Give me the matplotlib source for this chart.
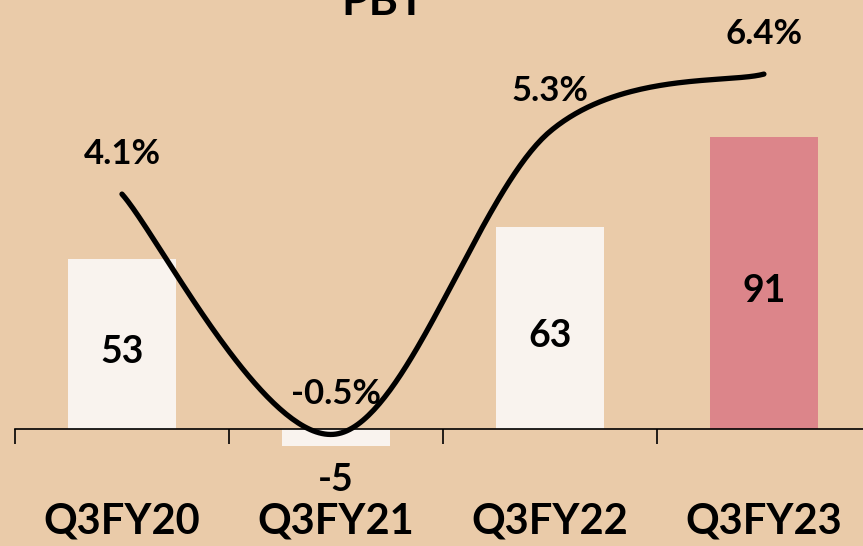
import numpy as np
import matplotlib.pyplot as plt

plt.rcParams['font.family'] = ['Lato', 'DejaVu Sans']
plt.rcParams['font.weight'] = 'bold'

quarters = ["Q3FY20", "Q3FY21", "Q3FY22", "Q3FY23"]
pbt = [53, -5, 63, 91]
margin = [4.1, -0.5, 5.3, 6.4]
bar_colors = ["#F9F3EE", "#F9F3EE", "#F9F3EE", "#DC858A"]

bg = "#EACBA9"


def smooth_curve(xs, ys, n=80):
    # Catmull-Rom through the points, drawn as cubic bezier segments
    p = np.column_stack([xs, ys]).astype(float)
    p = np.vstack([p[:1], p, p[-1:]])
    out = []
    t = np.linspace(0, 1, n)[:, None]
    for i in range(1, len(p) - 2):
        p0, p1, p2, p3 = p[i - 1], p[i], p[i + 1], p[i + 2]
        c1 = p1 + (p2 - p0) / 6
        c2 = p2 - (p3 - p1) / 6
        seg = ((1 - t) ** 3) * p1 + 3 * ((1 - t) ** 2) * t * c1 \
            + 3 * (1 - t) * t ** 2 * c2 + t ** 3 * p2
        out.append(seg if i == 1 else seg[1:])
    out = np.vstack(out)
    return out[:, 0], out[:, 1]


fig = plt.figure(figsize=(8.63, 5.46), dpi=100, facecolor=bg)
ax = fig.add_axes([0, 0, 1, 1])
ax.set_facecolor(bg)
x = np.arange(len(quarters))

ax.bar(x, pbt, width=0.505, color=bar_colors, zorder=2)
ax.set_ylim(-36.2, 133.4)

# category axis sitting on zero, ticks between the groups
for s in ["top", "left", "right"]:
    ax.spines[s].set_visible(False)
ax.spines["bottom"].set_position(("data", 0))
ax.spines["bottom"].set_bounds(-0.5, 3.5)
ax.spines["bottom"].set_linewidth(1.2)
ax.spines["bottom"].set_zorder(3)
ax.set_xticks(np.arange(-0.5, 4, 1))
ax.tick_params(axis="x", direction="out", length=11, width=1.2, labelbottom=False)
ax.set_yticks([])

for i, q in enumerate(quarters):
    ax.text(i, -28.7, q, ha="center", va="center", fontsize=30, fontweight="bold")

for i, v in enumerate(pbt):
    if v >= 0:
        ax.annotate(str(v), (i, v / 2), xytext=(0, -6), textcoords="offset points",
                    ha="center", va="center", fontsize=27, fontweight="bold")
    else:
        ax.annotate(str(v), (i, v), xytext=(0, -25), textcoords="offset points",
                    ha="center", va="center", fontsize=27, fontweight="bold")

ax2 = ax.twinx()
ax2.set_ylim(-2.645, 7.82)
ax2.axis("off")
sx, sy = smooth_curve(x, margin)
ax2.plot(sx, sy, color="black", lw=3.8, solid_capstyle="round", zorder=4)
for i, m in enumerate(margin):
    ax2.annotate(f"{m}%", (i, m), xytext=(0, 29), textcoords="offset points",
                 ha="center", va="center", fontsize=25, fontweight="bold")

# fix the category range last so nothing rescales it
ax.set_xlim(-0.570, 3.463)

fig.text(383 / 863, 1 - 15 / 546, "PBT", ha="center", va="baseline",
         fontsize=32, fontweight="bold")

fig.savefig("out.png", dpi=100, facecolor=bg)
